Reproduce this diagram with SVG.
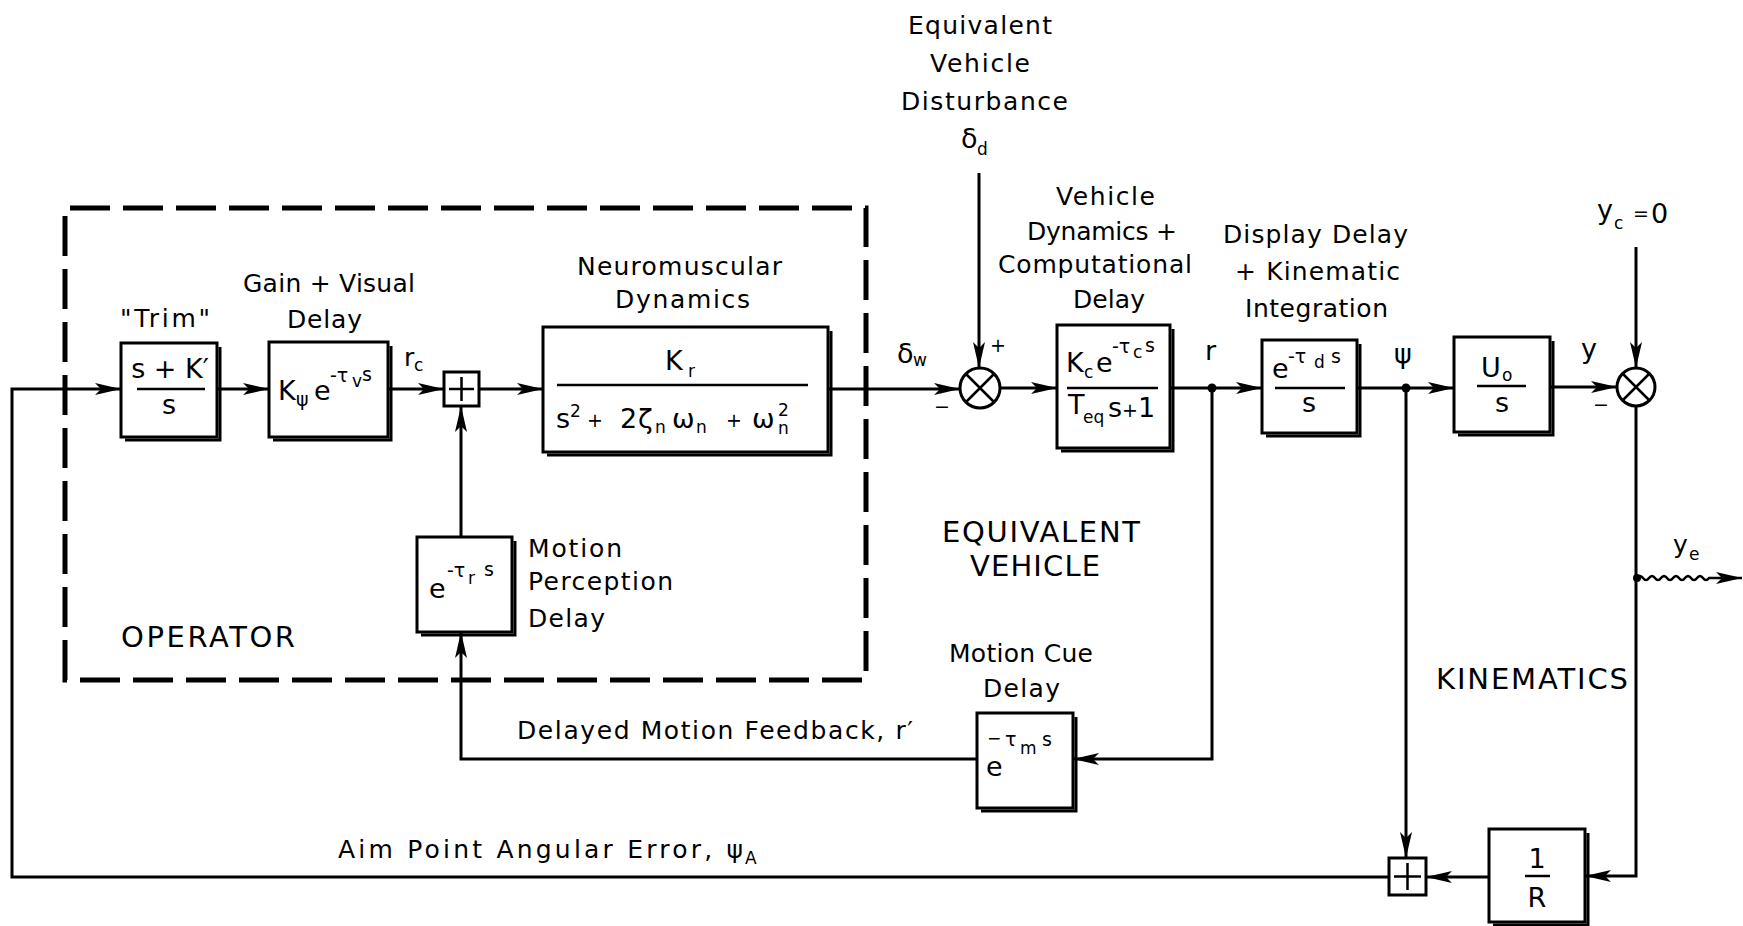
<svg xmlns="http://www.w3.org/2000/svg" width="1743" height="926" viewBox="0 0 1743 926">
<defs>
<style>
text{font-family:"DejaVu Sans","Liberation Sans",sans-serif;fill:#000}
.l{font-size:25px}
.u{font-size:29px}
.m{font-size:27px}
.p{font-size:19px}
.b{font-size:17px}
.ln{fill:none;stroke:#000;stroke-width:3}
.box{fill:#fff;stroke:#000;stroke-width:3}
.sh{fill:none;stroke:#000;stroke-width:3}
.dash{fill:none;stroke:#000;stroke-width:5;stroke-dasharray:40 13}
.fr{fill:none;stroke:#000;stroke-width:2.5}
.dot{fill:#000}
</style>
<marker id="ah" viewBox="0 0 26 12" refX="26" refY="6" markerWidth="26" markerHeight="12" markerUnits="userSpaceOnUse" orient="auto">
<path d="M0,0 L26,6 L0,12 L6,6 Z" fill="#000"/>
</marker>
</defs>
<rect width="1743" height="926" fill="#fff"/>

<g id="operator-boundary">
<path class="dash" d="M65,680 V208 H866 V680 Z"/>
<text class="u" x="121" y="647" textLength="174" lengthAdjust="spacing">OPERATOR</text>
</g>

<g id="connectors">
<path class="ln" marker-end="url(#ah)" d="M1389,877 H12 V389 H121"/>
<path class="ln" marker-end="url(#ah)" d="M217,389 H269"/>
<path class="ln" marker-end="url(#ah)" d="M388,389 H444"/>
<path class="ln" marker-end="url(#ah)" d="M479,389 H543"/>
<path class="ln" marker-end="url(#ah)" d="M828,389 H960"/>
<path class="ln" marker-end="url(#ah)" d="M979,173 V368"/>
<path class="ln" marker-end="url(#ah)" d="M1000,388 H1057"/>
<path class="ln" marker-end="url(#ah)" d="M1170,388 H1262"/>
<path class="ln" marker-end="url(#ah)" d="M1357,388 H1454"/>
<path class="ln" marker-end="url(#ah)" d="M1550,387 H1617"/>
<path class="ln" marker-end="url(#ah)" d="M1636,247 V368"/>
<path class="ln" marker-end="url(#ah)" d="M1636,406 V876 H1585"/>
<path class="ln" marker-end="url(#ah)" d="M1406,388 V858"/>
<path class="ln" marker-end="url(#ah)" d="M1489,877 H1426"/>
<path class="ln" marker-end="url(#ah)" d="M1212,388 V759 H1073"/>
<path class="ln" marker-end="url(#ah)" d="M977,759 H461 V632"/>
<path class="ln" marker-end="url(#ah)" d="M461,537 V406"/>
<path class="fr" marker-end="url(#ah)" d="M1637,578 q3,-4 6,0 t6,0 t6,0 t6,0 t6,0 t6,0 t6,0 t6,0 t6,0 t6,0 t6,0 t6,0 H1742"/>
<circle class="dot" cx="1212" cy="388" r="4.5"/>
<circle class="dot" cx="1406" cy="388" r="4.5"/>
<circle class="dot" cx="1637" cy="578" r="4"/>
<text class="m" x="897" y="363">δ</text><text class="b" x="913" y="366">w</text>
<text class="p" x="934" y="413">−</text>
<text class="p" x="990" y="352">+</text>
<text class="m" x="1205" y="360">r</text>
<text class="m" x="1394" y="363">ψ</text>
<text class="m" x="1581" y="358">y</text>
<text class="p" x="1593" y="411">−</text>
<text class="l" x="1673" y="553">y</text><text class="b" x="1689" y="560">e</text>
<text class="l" x="404" y="366">r</text><text class="b" x="414" y="371">c</text>
<text class="l" x="517" y="739" textLength="396" lengthAdjust="spacing">Delayed Motion Feedback, r′</text>
<text class="l" x="338" y="858" textLength="405" lengthAdjust="spacing">Aim Point Angular Error, ψ</text><text class="b" x="745" y="864">A</text>
</g>

<g id="disturbance">
<text class="l" x="908" y="34" textLength="144" lengthAdjust="spacing">Equivalent</text>
<text class="l" x="930" y="72" textLength="100" lengthAdjust="spacing">Vehicle</text>
<text class="l" x="901" y="110" textLength="167" lengthAdjust="spacing">Disturbance</text>
<text class="m" x="961" y="148">δ</text><text class="b" x="977" y="155">d</text>
</g>

<g id="trim">
<rect class="box" x="121" y="343" width="96" height="94"/>
<path class="sh" d="M220,347 V440 H125"/>
<text class="l" x="120" y="327" textLength="90" lengthAdjust="spacing">"Trim"</text>
<text class="m" x="170" y="378" text-anchor="middle">s + K′</text>
<line class="fr" x1="137" y1="389" x2="205" y2="389"/>
<text class="m" x="169" y="414" text-anchor="middle">s</text>
</g>

<g id="gain">
<rect class="box" x="269" y="342" width="119" height="95"/>
<path class="sh" d="M391,346 V440 H273"/>
<text class="l" x="243" y="292" textLength="172" lengthAdjust="spacing">Gain + Visual</text>
<text class="l" x="287" y="328" textLength="75" lengthAdjust="spacing">Delay</text>
<text class="m" x="278" y="400">K</text>
<text class="p" x="296" y="406">ψ</text>
<text class="m" x="314" y="400">e</text>
<text class="p" x="330" y="382">-τ</text>
<text class="b" x="352" y="387">v</text>
<text class="p" x="362" y="381">s</text>
</g>

<g id="sum1">
<rect class="box" x="444" y="372" width="35" height="34"/>
<path class="fr" d="M449,389 H474 M461.5,377 V401"/>
</g>

<g id="neuromuscular">
<rect class="box" x="543" y="327" width="285" height="125"/>
<path class="sh" d="M831,331 V455 H547"/>
<text class="l" x="577" y="275" textLength="205" lengthAdjust="spacing">Neuromuscular</text>
<text class="l" x="615" y="308" textLength="135" lengthAdjust="spacing">Dynamics</text>
<text class="m" x="665" y="370">K</text><text class="b" x="688" y="377">r</text>
<line class="fr" x1="557" y1="385" x2="808" y2="385"/>
<text class="m" x="556" y="428">s</text>
<text class="b" x="570" y="417">2</text>
<text class="p" x="587" y="427">+</text>
<text class="m" x="620" y="428">2</text>
<text class="m" x="638" y="428">ζ</text>
<text class="b" x="655" y="433">n</text>
<text class="m" x="672" y="428">ω</text>
<text class="b" x="696" y="433">n</text>
<text class="p" x="726" y="427">+</text>
<text class="m" x="752" y="428">ω</text>
<text class="b" x="778" y="416">2</text>
<text class="b" x="778" y="434">n</text>
</g>

<g id="perception">
<rect class="box" x="417" y="537" width="95" height="95"/>
<path class="sh" d="M515,541 V635 H421"/>
<text class="m" x="429" y="598">e</text>
<text class="p" x="447" y="577">-τ</text>
<text class="b" x="468" y="584">r</text>
<text class="p" x="484" y="576">s</text>
<text class="l" x="528" y="557" textLength="94" lengthAdjust="spacing">Motion</text>
<text class="l" x="528" y="590" textLength="145" lengthAdjust="spacing">Perception</text>
<text class="l" x="528" y="627" textLength="77" lengthAdjust="spacing">Delay</text>
</g>

<g id="sumA">
<circle class="box" cx="980" cy="388" r="20"/>
<path class="fr" d="M966,374 L994,402 M994,374 L966,402"/>
</g>

<g id="vehicle">
<rect class="box" x="1057" y="325" width="113" height="123"/>
<path class="sh" d="M1173,329 V451 H1061"/>
<text class="l" x="1056" y="205" textLength="99" lengthAdjust="spacing">Vehicle</text>
<text class="l" x="1027" y="240" textLength="150" lengthAdjust="spacing">Dynamics +</text>
<text class="l" x="998" y="273" textLength="194" lengthAdjust="spacing">Computational</text>
<text class="l" x="1073" y="308" textLength="72" lengthAdjust="spacing">Delay</text>
<text class="m" x="1066" y="372">K</text>
<text class="b" x="1084" y="378">c</text>
<text class="m" x="1096" y="372">e</text>
<text class="p" x="1112" y="353">-τ</text>
<text class="b" x="1133" y="358">c</text>
<text class="p" x="1145" y="352">s</text>
<line class="fr" x1="1067" y1="388" x2="1158" y2="388"/>
<text class="m" x="1068" y="414">T</text>
<text class="b" x="1083" y="423">eq</text>
<text class="m" x="1108" y="417">s<tspan class="p">+</tspan>1</text>
</g>

<g id="display">
<rect class="box" x="1262" y="340" width="95" height="93"/>
<path class="sh" d="M1360,344 V436 H1266"/>
<text class="l" x="1223" y="243" textLength="185" lengthAdjust="spacing">Display Delay</text>
<text class="l" x="1235" y="280" textLength="165" lengthAdjust="spacing">+ Kinematic</text>
<text class="l" x="1245" y="317" textLength="143" lengthAdjust="spacing">Integration</text>
<text class="m" x="1272" y="378">e</text>
<text class="p" x="1288" y="363">-τ</text>
<text class="b" x="1314" y="368">d</text>
<text class="p" x="1331" y="363">s</text>
<line class="fr" x1="1275" y1="388" x2="1345" y2="388"/>
<text class="m" x="1309" y="412" text-anchor="middle">s</text>
</g>

<g id="uo">
<rect class="box" x="1454" y="337" width="96" height="95"/>
<path class="sh" d="M1553,341 V435 H1458"/>
<text class="m" x="1481" y="377">U</text>
<text class="b" x="1502" y="381">o</text>
<line class="fr" x1="1477" y1="386" x2="1526" y2="386"/>
<text class="m" x="1502" y="412" text-anchor="middle">s</text>
</g>

<g id="sumB">
<circle class="box" cx="1636" cy="387" r="19"/>
<path class="fr" d="M1622.5,373.5 L1649.5,400.5 M1649.5,373.5 L1622.5,400.5"/>
<text class="m" x="1597" y="219">y</text>
<text class="b" x="1614" y="229">c</text>
<text class="p" x="1633" y="220">=</text>
<text class="m" x="1651" y="223">0</text>
</g>

<g id="vehicle-label">
<text class="u" x="942" y="542" textLength="198" lengthAdjust="spacing">EQUIVALENT</text>
<text class="u" x="970" y="576" textLength="130" lengthAdjust="spacing">VEHICLE</text>
</g>

<g id="motioncue">
<rect class="box" x="977" y="713" width="96" height="95"/>
<path class="sh" d="M1076,717 V811 H981"/>
<text class="l" x="949" y="662" textLength="144" lengthAdjust="spacing">Motion Cue</text>
<text class="l" x="983" y="697" textLength="77" lengthAdjust="spacing">Delay</text>
<text class="m" x="986" y="776">e</text>
<text class="b" x="987" y="744">−</text>
<text class="p" x="1005" y="746">τ</text>
<text class="b" x="1020" y="754">m</text>
<text class="p" x="1042" y="746">s</text>
</g>

<g id="sum2">
<rect class="box" x="1389" y="858" width="37" height="37"/>
<path class="fr" d="M1394,876.5 H1421 M1407.5,863 V890"/>
</g>

<g id="invR">
<rect class="box" x="1489" y="829" width="96" height="93"/>
<path class="sh" d="M1588,833 V925 H1493"/>
<text class="m" x="1537" y="868" text-anchor="middle">1</text>
<line class="fr" x1="1525" y1="876" x2="1550" y2="876"/>
<text class="m" x="1537" y="907" text-anchor="middle">R</text>
<text class="u" x="1436" y="689" textLength="192" lengthAdjust="spacing">KINEMATICS</text>
</g>
</svg>
